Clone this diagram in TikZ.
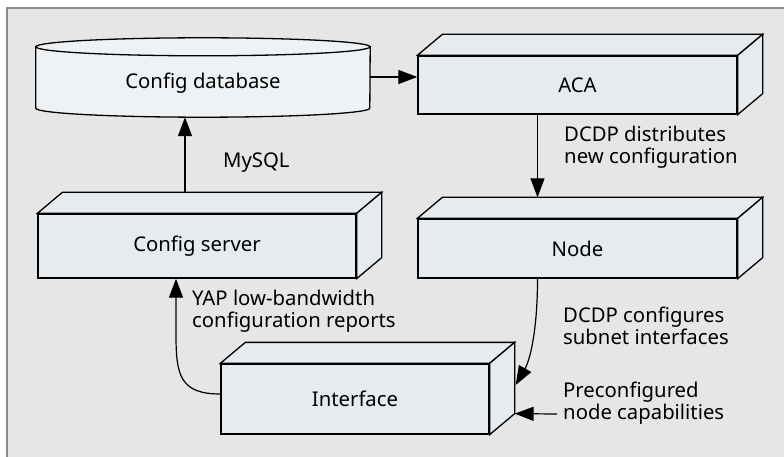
\documentclass[tikz,border=0pt]{standalone}
\usepackage{fontspec}
\setmainfont{Noto Sans}
\usetikzlibrary{arrows.meta}
\definecolor{panel}{HTML}{E6E6E6}
\definecolor{panelrule}{HTML}{8C8C8C}
\definecolor{boxfill}{HTML}{E6EBEF}
\definecolor{dbfill}{HTML}{EEF2F5}

% top and side faces of a 3-D block whose front face is node #1
\newcommand\blocksides[1]{%
  \filldraw[face] (#1.north west) -- ++(25,-21) -- ([shift={(25,-21)}]#1.north east) -- (#1.north east) -- cycle;
  \filldraw[face] (#1.north east) -- ++(25,-21) -- ([shift={(25,-21)}]#1.south east) -- (#1.south east) -- cycle;}

\begin{document}
\begin{tikzpicture}[x=1pt,y=-1pt,
  txt/.style={font=\fontsize{20.3}{21.5}\selectfont},
  face/.style={draw=black, line width=1.3pt, fill=boxfill, line join=miter},
  front/.style={face, txt, rectangle, inner sep=0pt},
  conn/.style={draw=black, line width=1.2pt, -{Triangle[length=19pt,width=14pt]}},
  lbl/.style={txt, align=left, inner sep=0pt, anchor=west}]

\useasboundingbox (0,0) rectangle (784,457);

% panel
\fill[panel] (7,8) rectangle (784,457);
\draw[panelrule, line width=2.5pt] (7,457) -- (7,8) -- (784,8);

% database cylinder
\node[txt, minimum width=334pt, minimum height=70pt, inner sep=0pt] (db) at (203,82) {};
\filldraw[draw=black, line width=1.3pt, fill=dbfill]
  (db.north west) -- ([yshift=9pt]db.south west)
  arc[start angle=180, end angle=360, x radius=167pt, y radius=9pt]
  -- (db.north east) -- cycle;
\filldraw[draw=black, line width=1.3pt, fill=dbfill] (db.north) ellipse[x radius=167pt, y radius=9pt];
\node[txt] at ([yshift=-1pt]db.center) {Config database};

% blocks
\node[front, minimum width=319pt, minimum height=58pt] (aca) at (577.5,85) {ACA};
\blocksides{aca}
\node[front, minimum width=319pt, minimum height=59pt] (node) at (577.5,248.5) {Node};
\blocksides{node}
\node[front, minimum width=318pt, minimum height=64pt] (srv) at (197,246) {Config server};
\blocksides{srv}
\node[front, minimum width=268pt, minimum height=70pt] (ifc) at (355,399) {\raisebox{-3pt}{Interface}};
\blocksides{ifc}

% labels
\node[lbl] (mysql) at (223,163) {MySQL};
\node[lbl] (distlbl) at (564,147) {DCDP distributes\\new configuration};
\node[lbl] (yaplbl) at (192,311) {YAP low-bandwidth\\configuration reports};
\node[lbl] (cfglbl) at (563,326) {DCDP configures\\subnet interfaces};
\node[lbl] (prelbl) at (563,403) {Preconfigured\\node capabilities};

% connectors
\draw[conn] ([yshift=5pt]db.east) -- ([yshift=5pt]db.east -| aca.west);
\draw[conn] ([xshift=-40pt]aca.south) -- ([xshift=-40pt,yshift=21pt]node.north);
\draw[conn] ([xshift=-12pt,yshift=21pt]srv.north) -- ([xshift=-18pt]db.south);
\coordinate (yapbend) at ([xshift=-21pt]srv.south |- 0,335);
\draw[conn] ([yshift=5pt]ifc.west) .. controls ([yshift=5pt]ifc.west -| 180,0) and (176,375) .. (yapbend) -- ([xshift=-21pt]srv.south);
\coordinate (cfgtip) at ([shift={(26,-14)}]ifc.east);
\draw[conn] ([xshift=-40pt]node.south) .. controls ([xshift=-40pt,yshift=-52pt]node.south) and (530,360) .. (cfgtip);
\coordinate (prestart) at (557,414);
\draw[conn] (prestart) -- ([shift={(25,-21)}]ifc.south east);
\end{tikzpicture}
\end{document}
